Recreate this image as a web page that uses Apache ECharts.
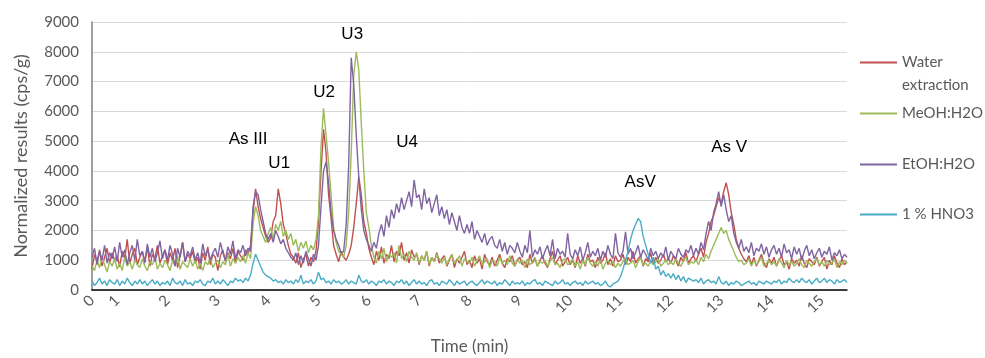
<!DOCTYPE html>
<html>
<head>
<meta charset="utf-8">
<title>Chromatogram</title>
<script src="https://cdn.jsdelivr.net/npm/echarts@6/dist/echarts.min.js"></script>
<style>
  html, body { margin: 0; padding: 0; background: #fff; }
  #chart { width: 985px; height: 358px; }
</style>
</head>
<body>
<div id="chart"></div>
<script>
// sampling grid: first point at 0.5 min, one point every 0.05 min
const tStart = 0.5
const tStep = 0.05

// tick positions on the time axis and their labels (first one is printed as 0)
const xTicks = [0.5, 1, 2, 3, 4, 5, 6, 7, 8, 9, 10, 11, 12, 13, 14, 15]
const xTickText = ['0', '1', '2', '3', '4', '5', '6', '7', '8', '9', '10', '11', '12', '13', '14', '15']

const seriesNames = ['Water extraction', 'MeOH:H2O', 'EtOH:H2O', '1 % HNO3']

// cps/g, one row = 0.5 min
const water = [
  700,1200,950,1350,800,1100,1400,900,1250,1000,
  1150,780,1300,1050,1700,900,1200,1400,850,1100,
  1300,950,1450,800,1200,1050,1500,900,1150,1350,
  850,1250,1000,1400,750,1150,1600,950,1200,1050,
  1300,900,1100,700,1250,1000,1450,850,1200,1100,
  650,1150,1350,950,1250,1050,1400,900,1300,1150,
  1000,1350,1200,1500,2600,3400,2800,2400,2100,1800,
  1600,1750,2300,2500,3400,2900,2200,1900,1500,1200,
  1100,900,1250,750,1050,1200,800,1100,950,1300,
  2300,4000,5400,4600,3200,2400,1500,1200,950,1300,
  1100,1000,1200,1500,2100,2900,3800,3200,2300,1900,
  1400,1100,850,1300,1000,1450,900,1200,1050,1500,
  950,1300,1150,1600,1000,1250,900,1350,1100,1200,
  850,1150,1000,1300,800,1100,950,1250,900,1050,
  1150,800,1000,1200,750,1050,900,1100,1300,850,
  1000,750,1150,900,1050,700,1200,950,850,1100,
  800,1000,1200,900,750,1050,950,1150,800,1000,
  1100,850,950,750,1200,900,1050,800,1000,1150,
  900,750,1050,1300,850,1000,1150,800,950,1100,
  850,1000,750,1150,900,1050,800,1200,950,1000,
  750,1100,900,1000,1250,850,1050,800,1150,950,
  1000,1200,850,1100,950,1300,900,1050,1150,800,
  1050,950,1250,850,1100,900,1000,1200,950,1050,
  900,1150,1000,800,1100,950,1250,900,1050,1150,
  950,1200,1400,1100,1600,1900,2300,2500,2800,3100,
  2900,3300,3600,3200,2600,2200,1700,1400,1200,1050,
  950,1150,850,1100,800,1000,1200,900,750,1050,
  900,1100,800,1000,1150,850,950,700,1050,900,
  1000,800,1150,900,750,1050,950,850,1100,800,
  950,1100,700,1000,850,1150,900,750,1050,850,
  950
]

const meoh = [
  800,650,1000,750,1100,850,600,950,800,1050,
  700,900,650,1100,800,950,700,1000,850,750,
  1050,800,650,950,850,1100,700,900,750,1000,
  850,650,1000,800,1150,700,950,850,750,1050,
  800,1000,700,900,650,950,850,1100,750,900,
  1000,750,950,850,1200,800,1050,900,1100,950,
  1150,900,1250,1050,2200,2800,2500,2000,1800,1600,
  1900,2100,1700,2200,2000,2300,1800,2000,1700,1900,
  1500,1700,1300,1600,1400,1650,1250,1500,1350,1700,
  2500,4800,6100,5200,4300,3200,2100,1600,1300,1200,
  1100,1500,2600,4600,7200,8000,7400,5600,4000,2600,
  2100,1500,1100,900,1300,1050,1400,950,1200,1100,
  1250,900,1500,1050,1200,950,1300,1100,1000,1250,
  900,1150,1000,1300,850,1100,950,1200,1050,900,
  1100,850,1050,1200,900,1000,1150,800,1050,950,
  900,1100,800,1000,1150,850,950,1050,750,1000,
  950,800,1100,900,1000,850,1150,900,800,1050,
  900,1000,750,1050,850,950,1100,800,950,900,
  1000,800,950,1100,850,900,750,1000,1050,850,
  900,1050,800,950,700,1000,850,1100,900,800,
  950,800,1050,700,900,1000,850,950,750,900,
  800,950,1050,850,900,1000,750,950,1100,850,
  900,800,1000,850,950,1050,800,900,1000,850,
  950,850,1050,900,800,1000,1100,850,950,900,
  1000,850,1100,950,1200,1050,1300,1500,1700,1900,
  2100,1900,2000,1700,1500,1300,1100,950,1000,850,
  900,1050,800,1000,850,950,1100,800,900,1000,
  850,950,800,1050,900,750,1000,850,950,800,
  900,1050,850,750,1000,900,800,950,1050,850,
  950,800,1000,850,900,1050,750,950,850,1000,
  900
]

const etoh = [
  1100,1400,850,1300,1000,1500,900,1250,1050,1450,
  950,1600,1100,1350,850,1250,1500,1000,1700,1150,
  1300,900,1550,1100,1400,950,1250,1650,1050,1350,
  1000,1500,1200,800,1400,1100,1600,950,1300,1150,
  1450,1000,1250,900,1550,1150,1350,1000,1250,1400,
  1100,1600,1250,1000,1450,1200,1650,1050,1350,1250,
  1500,1150,1400,1300,2800,3300,3200,2700,2300,1900,
  1700,1900,1600,2000,1800,1550,1700,1400,1250,1100,
  1000,1250,850,1150,900,1300,1050,800,1200,1000,
  1500,2800,4000,4300,3600,2600,2000,1700,1500,1250,
  1300,2200,4200,7800,6900,5200,3800,2700,2000,1700,
  1500,1300,1600,1400,1900,2200,1800,2500,2100,2700,
  2400,2900,2600,3100,2700,3000,3300,2800,3700,3100,
  3200,2700,3400,2900,3100,2600,2900,3200,2500,2800,
  2400,2700,2200,2600,2300,2000,2500,2100,1900,2200,
  1900,2300,1700,2000,1800,1600,1900,1500,1700,1800,
  1500,1400,1700,1300,1600,1200,1500,1400,1250,1600,
  1300,1100,1500,1250,2000,1100,1350,1200,1450,1050,
  1300,1500,1150,1700,1050,1400,1200,1300,1100,1900,
  1200,1050,1350,1150,1450,1000,1250,1600,1100,1300,
  1150,1400,1000,1300,1100,1500,1200,1050,1900,1250,
  1100,1300,1950,1200,1400,1050,1250,1500,1100,1350,
  1200,1000,1400,1150,1300,1050,1250,1100,1450,1000,
  1300,1150,1050,1400,1200,1100,1350,1250,1500,1150,
  1400,1200,1600,1350,1900,2300,2000,2600,2900,3300,
  2800,3200,2700,2300,2500,1900,1600,1400,1700,1300,
  1450,1250,1600,1150,1400,1300,1550,1200,1450,1100,
  1350,1500,1200,1400,1100,1550,1250,1350,1050,1450,
  1200,1400,1000,1300,1500,1150,1350,1050,1250,1400,
  1100,1300,1200,1450,1000,1250,1150,1350,1050,1200,
  1100
]

const hno3 = [
  300,150,250,400,200,300,150,350,250,200,
  350,150,300,200,400,250,150,300,200,350,
  200,300,150,250,350,200,300,150,250,200,
  300,150,400,250,200,300,150,350,200,250,
  150,300,250,350,200,150,300,250,400,200,
  300,200,350,250,150,300,250,400,300,350,
  250,400,300,500,900,1200,1000,800,600,500,
  450,400,300,350,250,300,200,350,250,300,
  200,350,250,500,200,300,250,350,200,300,
  600,350,400,250,300,200,350,250,300,200,
  250,350,200,300,250,200,500,300,250,350,
  200,300,250,150,300,250,350,200,300,250,
  150,300,250,350,200,300,150,250,350,200,
  300,200,250,150,300,350,200,250,150,300,
  250,200,350,250,150,300,200,250,300,150,
  250,300,200,150,250,350,200,300,250,200,
  300,150,250,200,350,250,150,300,200,250,
  200,300,150,250,200,300,350,200,250,150,
  300,250,200,150,300,200,250,350,200,250,
  150,250,300,200,250,150,300,200,250,300,
  200,250,150,200,300,150,100,200,250,300,
  450,700,1000,1300,1700,2000,2200,2400,2300,1800,
  1500,1200,900,1100,700,800,500,650,450,550,
  400,550,350,500,300,450,250,400,350,300,
  350,250,400,200,300,350,250,300,200,450,
  250,200,300,150,250,200,300,250,150,200,
  250,300,200,250,150,300,250,200,300,250,
  200,300,250,350,200,300,250,400,300,250,
  350,250,400,300,250,350,200,300,400,250,
  300,400,250,350,300,200,350,250,300,350,
  250
]

// peak labels: [time, cps/g, text]
const peakLabels = [
  [3.6, 5050, 'As III'],
  [4.22, 4250, 'U1'],
  [5.11, 6640, 'U2'],
  [5.67, 8600, 'U3'],
  [6.76, 4950, 'U4'],
  [11.39, 3600, 'AsV'],
  [13.16, 4800, 'As V']
]

const colors = ['#C0504D', '#9BBB59', '#8064A2', '#4BACC6']
const allValues = [water, meoh, etoh, hno3]

const toPairs = (arr) => arr.map((v, i) => [+(tStart + i * tStep).toFixed(2), v])

const labelFont = 'Lato, "Open Sans", sans-serif'
const axisGray = '#595959'

const chart = echarts.init(document.getElementById('chart'))

const legendTops = [55, 106, 157, 207]
const legends = seriesNames.map((name, i) => ({
  data: [name],
  orient: 'vertical',
  left: 860,
  top: legendTops[i],
  padding: 0,
  icon: 'rect',
  itemWidth: 37,
  itemHeight: 2,
  itemGap: 0,
  formatter: (n) => (n === 'Water extraction' ? 'Water' : n),
  textStyle: { color: axisGray, fontSize: 15, fontFamily: labelFont }
}))

const series = seriesNames.map((name, i) => ({
  name: name,
  type: 'line',
  data: toPairs(allValues[i]),
  symbol: 'none',
  color: colors[i],
  lineStyle: { width: 1.4, color: colors[i] },
  animation: false
}))

series[3].markPoint = {
  symbol: 'circle',
  symbolSize: 0,
  animation: false,
  label: {
    show: true,
    position: 'inside',
    formatter: '{b}',
    color: '#000',
    fontSize: 17,
    fontFamily: '"Liberation Sans", Arial, sans-serif'
  },
  data: peakLabels.map((p) => ({ coord: [p[0], p[1]], name: p[2] }))
}

const option = {
  backgroundColor: '#fff',
  animation: false,
  grid: { left: 92, right: 138, top: 22, bottom: 68, outerBoundsMode: 'none' },
  legend: legends,
  graphic: [
    {
      type: 'text',
      left: 902,
      top: 78,
      style: { text: 'extraction', fill: axisGray, fontSize: 15, fontFamily: labelFont }
    }
  ],
  xAxis: {
    type: 'value',
    min: 0.5,
    max: 15.5,
    interval: 0.5,
    name: 'Time (min)',
    nameLocation: 'middle',
    nameGap: 48,
    nameTextStyle: { color: axisGray, fontSize: 17, fontFamily: labelFont },
    axisLine: { lineStyle: { color: '#000', width: 1.5 } },
    axisTick: { show: false },
    splitLine: { show: false },
    axisLabel: {
      customValues: xTicks,
      rotate: 45,
      margin: 8,
      color: axisGray,
      fontSize: 15,
      fontFamily: labelFont,
      formatter: (v) => {
        const k = xTicks.indexOf(+v.toFixed(2))
        return k >= 0 ? xTickText[k] : ''
      }
    }
  },
  yAxis: {
    type: 'value',
    min: 0,
    max: 9000,
    interval: 1000,
    name: 'Normalized results (cps/g)',
    nameLocation: 'middle',
    nameGap: 62,
    nameTextStyle: { color: axisGray, fontSize: 18, fontFamily: labelFont },
    axisLine: { show: true, lineStyle: { color: '#7f7f7f', width: 1.5 } },
    axisTick: { show: false },
    splitLine: { lineStyle: { color: '#d9d9d9', width: 1 } },
    axisLabel: {
      color: axisGray,
      fontSize: 15,
      fontFamily: labelFont,
      margin: 13,
      formatter: (v) => String(v)
    }
  },
  series: series
}

chart.setOption(option)
</script>
</body>
</html>
